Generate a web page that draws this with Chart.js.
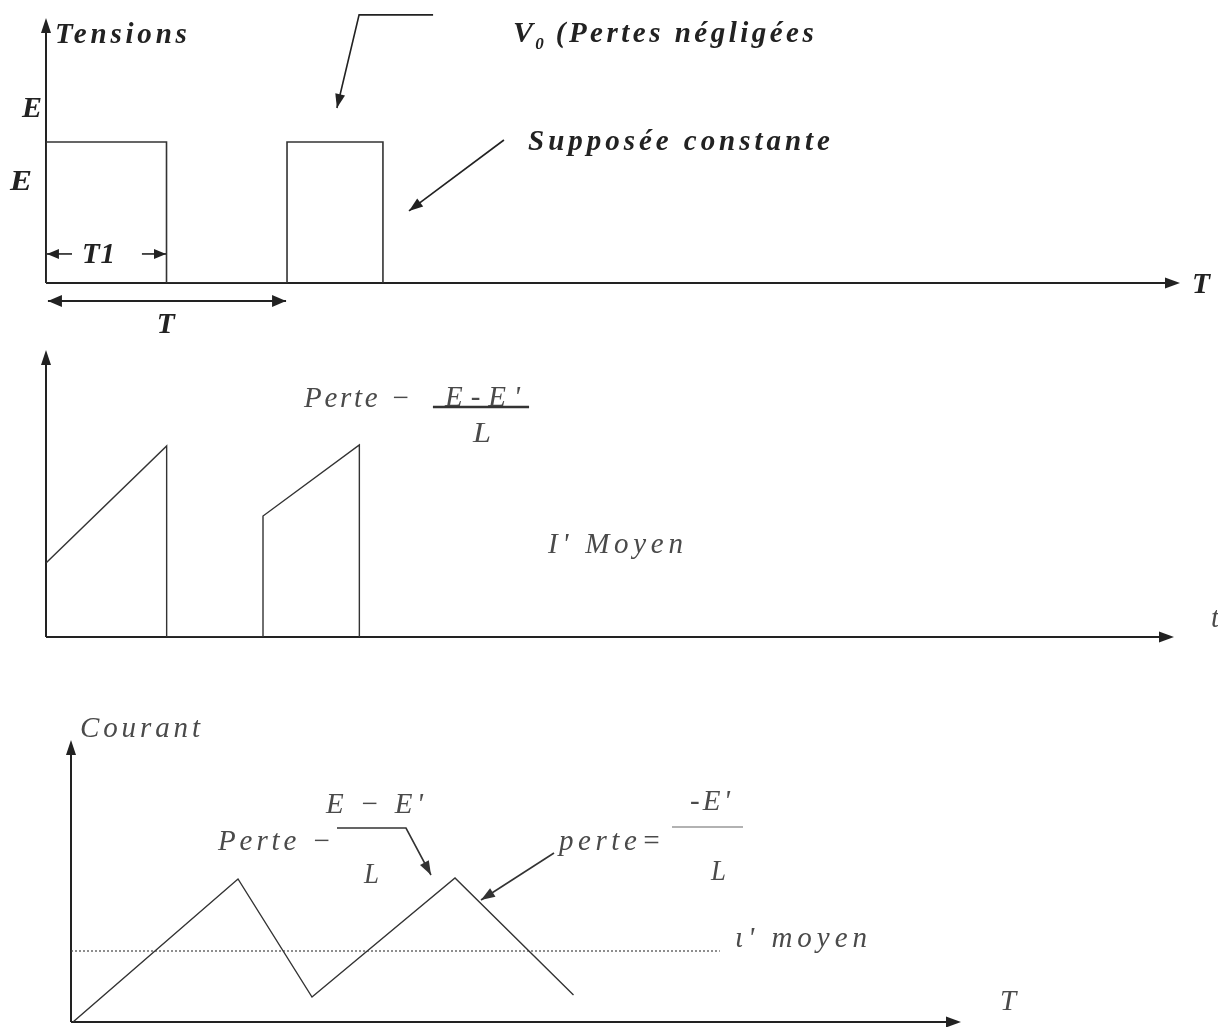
<!DOCTYPE html>
<html>
<head>
<meta charset="utf-8">
<script src="https://cdn.jsdelivr.net/npm/chart.js@4.4.1/dist/chart.umd.min.js"></script>
<style>
  body { margin: 0; background: #fff; }
  #wrap { position: relative; width: 1218px; height: 1027px; }
  canvas { position: absolute; left: 0; }
</style>
</head>
<body>
<div id="wrap">
  <canvas id="tensions" width="1218" height="340" style="top:0"></canvas>
  <canvas id="rampe" width="1218" height="340" style="top:340px"></canvas>
  <canvas id="courant" width="1218" height="347" style="top:680px"></canvas>
</div>
<script>
// tension hachée (x en periodes T, y en E)
const tensionT = [0, 0, 0.5, 0.5, 1.0, 1.0, 1.398, 1.398]
const tensionV = [0, 1, 1, 0, 0, 1, 1, 0]

// courant pendant la conduction
const rampT = [0, 0.556, 0.556, 1.0, 1.0, 1.444, 1.444]
const rampI = [0.74, 1.91, 0, 0, 1.21, 1.92, 0]

// courant triangulaire + valeur moyenne
const courantT = [0.02, 1.67, 2.41, 3.84, 5.025]
const courantI = [0, 1.43, 0.25, 1.44, 0.27]
const iMoyen = 0.71
const iMoyenT = [0, 6.49]

const ink = '#222'
const grey = '#4a4a4a'
const serif = "'Liberation Serif', 'Times New Roman', serif"

function toPts(xs, ys){
    return xs.map((x, i) => ({x: x, y: ys[i]}))
}

function at(chart, x, y){
    return [chart.scales.x.getPixelForValue(x), chart.scales.y.getPixelForValue(y)]
}

function head(ctx, x0, y0, x1, y1, len, half){
    let a = Math.atan2(y1 - y0, x1 - x0)
    let c = Math.cos(a), s = Math.sin(a)
    ctx.beginPath()
    ctx.moveTo(x1, y1)
    ctx.lineTo(x1 - len*c + half*s, y1 - len*s - half*c)
    ctx.lineTo(x1 - len*c - half*s, y1 - len*s + half*c)
    ctx.closePath()
    ctx.fill()
}

// polyline in data units, arrow head on the last point (and first if both)
function arrow(chart, pts, opt={}){
    let ctx = chart.ctx
    let p = pts.map(q => at(chart, q[0], q[1]))
    ctx.save()
    ctx.strokeStyle = opt.color || ink
    ctx.fillStyle = opt.color || ink
    ctx.lineWidth = opt.width || 1.6
    ctx.beginPath()
    ctx.moveTo(p[0][0], p[0][1])
    for(let i = 1; i < p.length; i++) ctx.lineTo(p[i][0], p[i][1])
    ctx.stroke()
    let n = p.length
    let len = opt.len || 13, half = opt.half || 5
    if(opt.head !== false) head(ctx, p[n-2][0], p[n-2][1], p[n-1][0], p[n-1][1], len, half)
    if(opt.both) head(ctx, p[1][0], p[1][1], p[0][0], p[0][1], len, half)
    ctx.restore()
}

// spaced lettering, spread (or squeezed) to a given width
function txt(chart, str, x, y, w, font, color){
    let ctx = chart.ctx
    let [px, py] = at(chart, x, y)
    ctx.save()
    ctx.font = font
    ctx.fillStyle = color || ink
    ctx.textBaseline = 'alphabetic'
    ctx.letterSpacing = '0px'
    let w0 = ctx.measureText(str).width
    let k = 1
    if(w && str.length > 1){
        let ls = (w - w0) / (str.length - 1)
        if(ls >= 0) ctx.letterSpacing = ls.toFixed(2) + 'px'
        else k = w / w0
    } else if(w){
        k = w / w0
    }
    ctx.translate(px, py)
    ctx.scale(k, 1)
    ctx.fillText(str, 0, 0)
    ctx.restore()
}

const axesArrows = {
    id: 'axesArrows',
    beforeDatasetsDraw(chart){
        let {ctx, chartArea: a} = chart
        ctx.save()
        ctx.strokeStyle = ink
        ctx.fillStyle = ink
        ctx.lineWidth = 2
        ctx.beginPath()
        ctx.moveTo(a.left, a.bottom)
        ctx.lineTo(a.left, a.top + 8)
        ctx.moveTo(a.left, a.bottom)
        ctx.lineTo(a.right - 8, a.bottom)
        ctx.stroke()
        head(ctx, a.left, a.bottom, a.left, a.top, 15, 5)
        head(ctx, a.left, a.bottom, a.right, a.bottom, 15, 5.5)
        ctx.restore()
    }
}

function makeChart(id, datasets, xmax, ymax, ymin, padding, notes){
    let ctx = document.getElementById(id).getContext('2d')
    return new Chart(ctx, {
        type: 'scatter',
        data: { datasets: datasets },
        options: {
            responsive: false,
            animation: false,
            layout: { padding: padding },
            plugins: { legend: { display: false }, tooltip: { enabled: false } },
            scales: {
                x: { type: 'linear', min: 0, max: xmax, display: false },
                y: { type: 'linear', min: ymin, max: ymax, display: false }
            }
        },
        plugins: [axesArrows, { id: 'notes', afterDraw: notes }]
    })
}

function lineSet(pts, color, width, dash){
    return {
        data: pts,
        showLine: true,
        pointRadius: 0,
        borderColor: color,
        borderWidth: width,
        borderDash: dash || [],
        tension: 0,
        fill: false
    }
}

// ---- Tensions
const boldIt = 'italic bold 29px ' + serif
makeChart('tensions',
    [lineSet(toPts(tensionT, tensionV), '#333', 1.6)],
    4.705, 1.879, 0, {left: 46, right: 38, top: 18, bottom: 57},
    function(chart){
        txt(chart, 'Tensions', 0.037, 1.70, 132, boldIt)
        txt(chart, 'E', -0.10, 1.18, 20, boldIt)
        txt(chart, 'E', -0.149, 0.66, 22, boldIt)
        // T1 et T
        arrow(chart, [[0.108, 0.206], [0.004, 0.206]], {len: 12, half: 5})
        arrow(chart, [[0.398, 0.206], [0.498, 0.206]], {len: 12, half: 5})
        txt(chart, 'T1', 0.149, 0.142, 33, boldIt)
        arrow(chart, [[0.008, -0.128], [0.996, -0.128]], {len: 14, half: 6, both: true, width: 2})
        txt(chart, 'T', 0.46, -0.355, 18, boldIt)
        txt(chart, 'T', 4.755, -0.07, 18, boldIt)
        // V0
        arrow(chart, [[1.606, 1.901], [1.299, 1.901], [1.207, 1.241]], {len: 14, half: 5})
        txt(chart, 'V', 1.938, 1.709, 20, boldIt)
        txt(chart, '0', 2.03, 1.66, 0, 'italic bold 17px ' + serif)
        txt(chart, '(Pertes négligées', 2.115, 1.709, 258, boldIt)
        arrow(chart, [[1.900, 1.014], [1.506, 0.511]], {len: 14, half: 5})
        txt(chart, 'Supposée constante', 2.0, 0.943, 302, boldIt)
    })

// ---- Courant de conduction
const it = 'italic 29px ' + serif
makeChart('rampe',
    [lineSet(toPts(rampT, rampI), '#333', 1.4)],
    5.198, 2.87, 0, {left: 46, right: 44, top: 10, bottom: 43},
    function(chart){
        txt(chart, 'Perte −', 1.189, 2.30, 106, it, grey)
        txt(chart, 'E-E\'', 1.839, 2.31, 75, it, grey)
        arrow(chart, [[1.783, 2.30], [2.226, 2.30]], {head: false, width: 2.4, color: '#333'})
        txt(chart, 'L', 1.968, 1.95, 18, it, grey)
        txt(chart, 'I\' Moyen', 2.313, 0.84, 135, it, grey)
        txt(chart, 't', 5.369, 0.10, 0, it, grey)
    })

// ---- Courant
makeChart('courant',
    [lineSet(toPts(courantT, courantI), '#333', 1.4),
     lineSet(toPts(iMoyenT, [iMoyen, iMoyen]), '#444', 1.2, [2, 2])],
    8.9, 2.82, 0, {left: 71, right: 257, top: 60, bottom: 5},
    function(chart){
        txt(chart, 'Courant', 0.09, 2.85, 120, it, grey)
        txt(chart, 'E − E\'', 2.55, 2.09, 97, it, grey)
        txt(chart, 'Perte −', 1.47, 1.72, 113, it, grey)
        arrow(chart, [[2.66, 1.94], [3.35, 1.94], [3.60, 1.47]], {len: 14, half: 5, color: '#333'})
        txt(chart, 'L', 2.93, 1.39, 15, it, grey)
        arrow(chart, [[4.83, 1.69], [4.10, 1.22]], {len: 14, half: 5, color: '#333'})
        txt(chart, 'perte=', 4.88, 1.72, 102, it, grey)
        txt(chart, '-E\'', 6.19, 2.12, 40, it, grey)
        arrow(chart, [[6.01, 1.95], [6.72, 1.95]], {head: false, width: 1.2, color: '#666'})
        txt(chart, 'L', 6.40, 1.42, 15, it, grey)
        txt(chart, 'ι\' moyen', 6.64, 0.75, 132, it, grey)
        txt(chart, 'T', 9.29, 0.12, 0, it, grey)
    })
</script>
</body>
</html>
